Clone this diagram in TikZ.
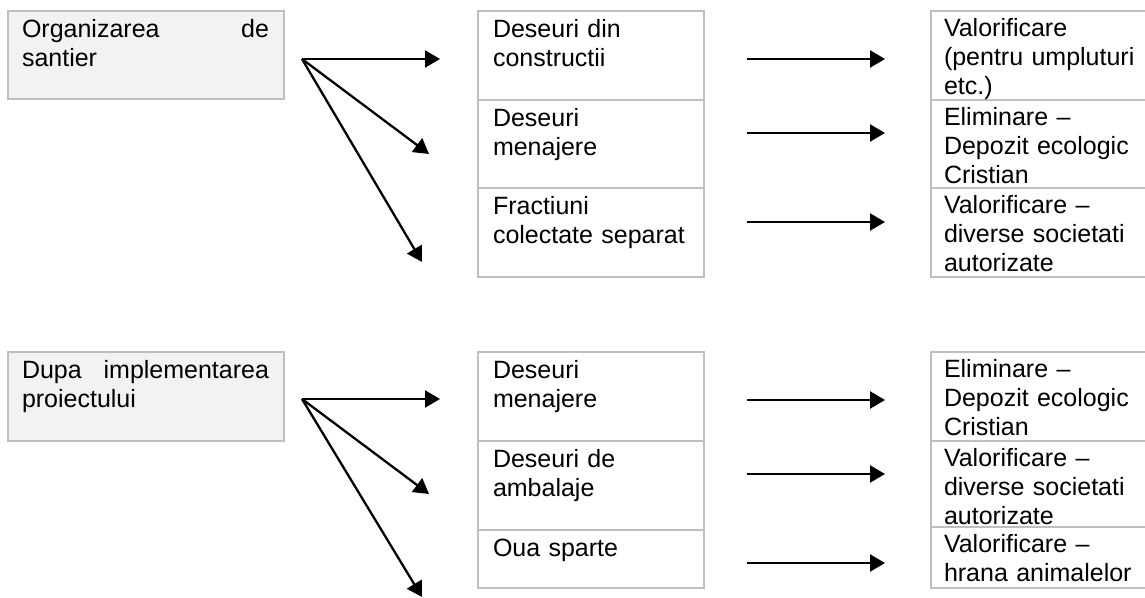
\documentclass[tikz,border=0pt]{standalone}
\usepackage{fontspec}
\setmainfont{Liberation Sans}
\usetikzlibrary{arrows.meta,calc}
\definecolor{boxgray}{HTML}{BFBFBF}
\definecolor{fillgray}{HTML}{F2F2F2}
\begin{document}
\begin{tikzpicture}[x=0.5pt,y=-0.5pt,
  box/.style={draw=boxgray, line width=0.9pt, anchor=north west, inner sep=0pt, outer sep=0pt},
  lbox/.style={box, fill=fillgray, minimum width=138pt, minimum height=#1},
  mbox/.style={box, minimum width=113pt, minimum height=#1},
  rbox/.style={box, minimum width=125pt, minimum height=#1},
  txt/.style={anchor=north west, inner sep=0pt, outer sep=0pt, align=left,
    font=\fontsize{12.5}{14.5}\selectfont, text width=#1,
    execute at begin node=\strut},
  arr/.style={-{Triangle[length=7.5pt,width=8.5pt]}, line width=1.15pt}]
\useasboundingbox (0,0) rectangle (1145,598);
\fill[white] (0,0) rectangle (1145,598);
\clip (0,0) rectangle (1145,598);

% ---------- top group ----------
\node[lbox=44pt] (A1) at (8,11) {};
\node[txt=123.5pt] (tA1) at ($(A1.north west)+(14,6)$) {Organizarea\hfill de\\santier};

\node[mbox=44.5pt] (M1) at (478,11) {};
\node[mbox=44pt]   (M2) at (478,100) {};
\node[mbox=44.5pt] (M3) at (478,188) {};
\node[txt=100pt] (tM1) at ($(M1.north west)+(15,6)$) {Deseuri din\\constructii};
\node[txt=100pt] (tM2) at ($(M2.north west)+(15,6)$) {Deseuri\\menajere};
\node[txt=100pt] (tM3) at ($(M3.north west)+(15,6)$) {Fractiuni\\colectate separat};

\node[rbox=44.5pt] (R1) at (931,11) {};
\node[rbox=44pt]   (R2) at (931,100) {};
\node[rbox=44.5pt] (R3) at (931,188) {};
\node[txt=110pt] (tR1) at ($(R1.north west)+(13,5.5)$) {Valorificare\\(pentru umpluturi\\etc.)};
\node[txt=110pt] (tR2) at ($(R2.north west)+(13,5.5)$) {Eliminare --\\Depozit ecologic\\Cristian};
\node[txt=110pt] (tR3) at ($(R3.north west)+(13,5.5)$) {Valorificare --\\diverse societati\\autorizate};

\coordinate (o1) at (302,59);
\coordinate (e11) at (440,59);
\coordinate (e12) at (429,154);
\coordinate (e13) at (422,262);
\draw[arr] (o1) -- (e11);
\draw[arr] (o1) -- (e12);
\draw[arr] (o1) -- (e13);

\coordinate (s11) at (747,59);  \coordinate (f11) at (885,59);
\coordinate (s12) at (747,133); \coordinate (f12) at (885,133);
\coordinate (s13) at (747,222); \coordinate (f13) at (885,222);
\draw[arr] (s11) -- (f11);
\draw[arr] (s12) -- (f12);
\draw[arr] (s13) -- (f13);

% ---------- bottom group ----------
\node[lbox=44.5pt] (A2) at (8,352) {};
\node[txt=123.5pt] (tA2) at ($(A2.north west)+(14,6)$) {Dupa\hfill implementarea\\proiectului};

\node[mbox=44.5pt] (M4) at (478,352) {};
\node[mbox=44.5pt] (M5) at (478,441) {};
\node[mbox=29pt]   (M6) at (478,530) {};
\node[txt=100pt] (tM4) at ($(M4.north west)+(15,6)$) {Deseuri\\menajere};
\node[txt=100pt] (tM5) at ($(M5.north west)+(15,6)$) {Deseuri de\\ambalaje};
\node[txt=100pt] (tM6) at ($(M6.north west)+(15,6)$) {Oua sparte};

\node[rbox=44.5pt] (R4) at (931,352) {};
\node[rbox=43pt]   (R5) at (931,441) {};
\node[rbox=30.5pt] (R6) at (931,527) {};
\node[txt=110pt] (tR4) at ($(R4.north west)+(13,5.5)$) {Eliminare --\\Depozit ecologic\\Cristian};
\node[txt=110pt] (tR5) at ($(R5.north west)+(13,5.5)$) {Valorificare --\\diverse societati\\autorizate};
\node[txt=110pt] (tR6) at ($(R6.north west)+(13,5.5)$) {Valorificare --\\hrana animalelor};

\coordinate (o2) at (302,399);
\coordinate (e21) at (440,399);
\coordinate (e22) at (429,494);
\coordinate (e23) at (422,597);
\draw[arr] (o2) -- (e21);
\draw[arr] (o2) -- (e22);
\draw[arr] (o2) -- (e23);

\coordinate (s21) at (747,400); \coordinate (f21) at (885,400);
\coordinate (s22) at (747,474); \coordinate (f22) at (885,474);
\coordinate (s23) at (747,563); \coordinate (f23) at (885,563);
\draw[arr] (s21) -- (f21);
\draw[arr] (s22) -- (f22);
\draw[arr] (s23) -- (f23);
\end{tikzpicture}
\end{document}
